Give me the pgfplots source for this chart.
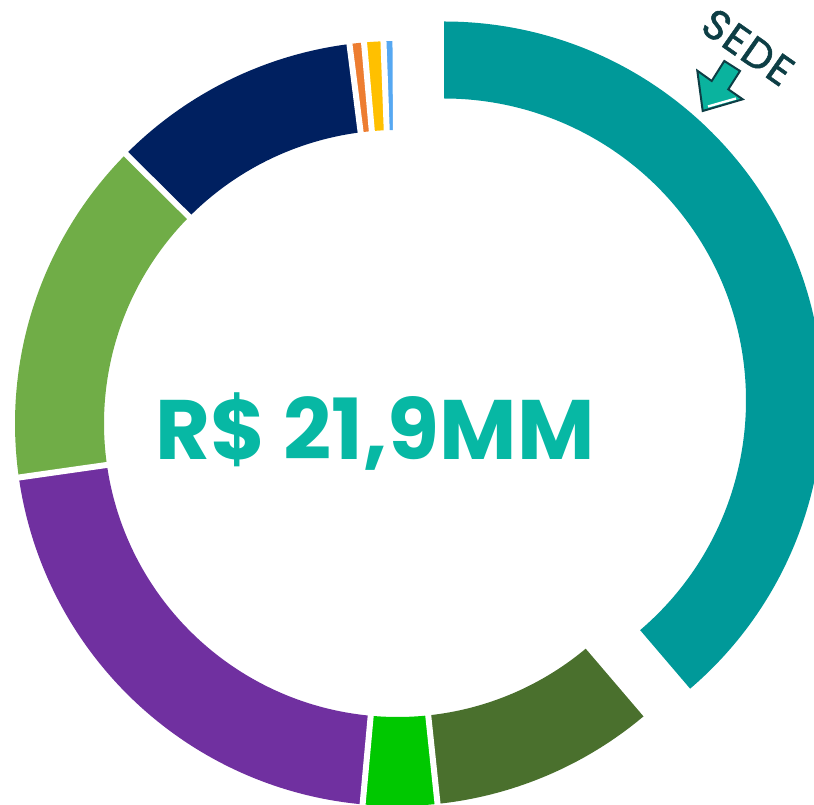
\documentclass[border=0pt]{standalone}
\usepackage{pgfplots}
\pgfplotsset{compat=1.18}
\usepackage{pgfplotstable}
\usepackage{fontspec}
\setmainfont{Poppins}

\definecolor{c0}{HTML}{009999}
\definecolor{c1}{HTML}{4A702D}
\definecolor{c2}{HTML}{00C800}
\definecolor{c3}{HTML}{7030A0}
\definecolor{c4}{HTML}{70AD47}
\definecolor{c5}{HTML}{002060}
\definecolor{c6}{HTML}{ED7D31}
\definecolor{c7}{HTML}{FFC000}
\definecolor{c8}{HTML}{56A8F2}
\definecolor{cText}{HTML}{07B8A4}
\definecolor{cDark}{HTML}{0D3E45}
\definecolor{cArrow}{HTML}{0AB39E}

% share of each slice (percent), clockwise from 12 o'clock
\pgfplotstableread{
idx pct
0 38.75
1 9.58
2 3.125
3 21.29
4 14.69
5 10.56
6 0.61
7 0.81
8 0.50
}\slices

\def\ST#1{\csname st#1\endcsname}
\def\EN#1{\csname en#1\endcsname}

\begin{document}
\begin{tikzpicture}
\xdef\cum{0}
\foreach \i in {0,...,8}{%
  \pgfplotstablegetelem{\i}{pct}\of\slices
  \pgfmathsetmacro\st{90-3.6*\cum}%
  \pgfmathsetmacro\newcum{\cum+\pgfplotsretval}%
  \pgfmathsetmacro\en{90-3.6*\newcum}%
  \expandafter\xdef\csname st\i\endcsname{\st}%
  \expandafter\xdef\csname en\i\endcsname{\en}%
  \xdef\cum{\newcum}%
}
\begin{axis}[x=0.3pt, y=0.3pt, xmin=0, xmax=814, ymin=0, ymax=805,
  hide axis, clip=true, disabledatascaling]
% main ring: centre (397.5,381.5), radii 293.5 / 382.5
\pgfplotsinvokeforeach{1,...,8}{
  \fill[c#1] (axis cs:{397.5+382.5*cos(\ST{#1})},{381.5+382.5*sin(\ST{#1})})
    arc[start angle=\ST{#1}, end angle=\EN{#1}, radius=114.75pt]
    -- (axis cs:{397.5+293.5*cos(\EN{#1})},{381.5+293.5*sin(\EN{#1})})
    arc[start angle=\EN{#1}, end angle=\ST{#1}, radius=88.05pt] -- cycle;
}
\pgfplotsinvokeforeach{1,...,8}{
  \draw[white, line width=1.8pt]
    (axis cs:{397.5+285*cos(\ST{#1})},{381.5+285*sin(\ST{#1})}) --
    (axis cs:{397.5+392*cos(\ST{#1})},{381.5+392*sin(\ST{#1})});
}
\draw[white, line width=1.8pt]
    (axis cs:{397.5+285*cos(\EN{8})},{381.5+285*sin(\EN{8})}) --
    (axis cs:{397.5+392*cos(\EN{8})},{381.5+392*sin(\EN{8})});
% exploded slice: centre (444,404.5), radii 302 / 379
\fill[c0] (axis cs:{444+379*cos(\ST{0})},{404.5+379*sin(\ST{0})})
    arc[start angle=\ST{0}, end angle=\EN{0}, radius=113.7pt]
    -- (axis cs:{444+302*cos(\EN{0})},{404.5+302*sin(\EN{0})})
    arc[start angle=\EN{0}, end angle=\ST{0}, radius=90.6pt] -- cycle;
% centre label
\node[anchor=base, text=cText, inner sep=0pt,
  font=\fontsize{25.3}{27}\selectfont\bfseries] at (axis cs:375,345) {R\$ 21,9MM};
% SEDE annotation
\node[rotate=-35, text=cDark, inner sep=0pt,
  font=\fontsize{12.5}{13}\selectfont\addfontfeatures{LetterSpace=3,FakeBold=1.2}] at (axis cs:748,758) {SEDE};
\draw[fill=cArrow, draw=cDark, line width=0.6pt, line join=miter]
  (axis cs:702.7,694) -- (axis cs:697.3,734.3) -- (axis cs:711.7,724)
  -- (axis cs:724.3,744) -- (axis cs:740,734) -- (axis cs:728.3,715.7)
  -- (axis cs:742.7,705.7) -- cycle;
\draw[white, line width=0.7pt] (axis cs:708,698.5) -- (axis cs:736,706.5);
\end{axis}
\pgfresetboundingbox
\useasboundingbox (current axis.south west) rectangle (current axis.north east);
\end{tikzpicture}
\end{document}
